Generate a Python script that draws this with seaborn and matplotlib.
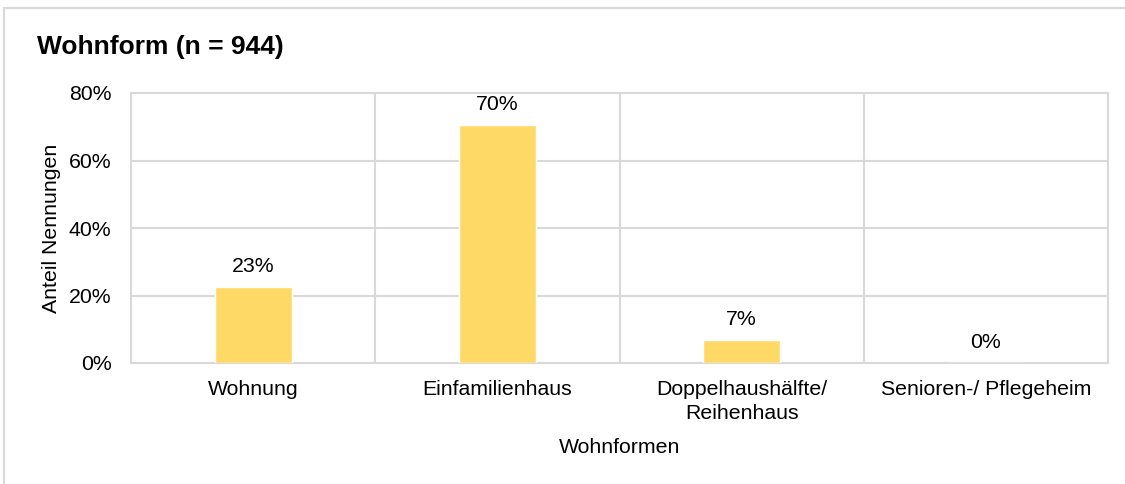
import matplotlib
matplotlib.use("Agg")
import matplotlib.pyplot as plt
import matplotlib.patches as mpatches
from matplotlib.ticker import FuncFormatter
import seaborn as sns
import pandas as pd

# data
wohnformen = ["Wohnung", "Einfamilienhaus", "Doppelhaushälfte/\nReihenhaus",
              "Senioren-/ Pflegeheim"]
anteil = [22.6, 70.4, 6.8, 0.0]

title = "Wohnform (n = 944)"
xlab = "Wohnformen"
ylab = "Anteil Nennungen"

sns.set_style("white")
plt.rcParams['font.family'] = ['Liberation Sans', 'DejaVu Sans']
plt.rcParams['text.color'] = 'black'
plt.rcParams['axes.labelcolor'] = 'black'

FS = 15.3

df = pd.DataFrame({"form": wohnformen, "anteil": anteil})

fig = plt.figure(figsize=(11.25, 4.84), dpi=100)
ax = fig.add_axes([131/1125, 1-363/484, (1108-131)/1125, (363-93)/484])

sns.barplot(data=df, x="form", y="anteil", color="#FFD966", saturation=1,
            width=0.315, ax=ax, zorder=3)

ax.set_ylim(0, 80)
ax.set_xlim(-0.5, 3.5)
ax.set_yticks([0, 20, 40, 60, 80])
ax.yaxis.set_major_formatter(FuncFormatter(lambda v, p: "{:.0f}%".format(v)))
ax.set_xticks([0.5, 1.5, 2.5], minor=True)
ax.grid(True, axis="y", color="#D9D9D9", lw=1.5, zorder=0)
ax.grid(True, axis="x", which="minor", color="#D9D9D9", lw=1.5, zorder=0)
ax.tick_params(axis="both", which="both", length=0, labelsize=FS, colors="black")
ax.tick_params(axis="x", pad=12)
ax.tick_params(axis="y", pad=14)
for lbl in ax.get_xticklabels():
    lbl.set_linespacing(1.35)
for s in ax.spines.values():
    s.set_color("#D9D9D9")
    s.set_linewidth(1.5)

## value labels above bars
for i, v in enumerate(anteil):
    ax.annotate("{:.0f}%".format(v), (i, v), xytext=(0, 11), textcoords="offset pixels",
                ha="center", va="bottom", fontsize=FS)

ax.set_xlabel(xlab, fontsize=FS, labelpad=11)
ax.set_ylabel(ylab, fontsize=FS, labelpad=6)

fig.text(37/1125, 1-47/484, title, fontsize=19, fontweight="bold", va="center", ha="left")

## outer chart border
fig.patches.append(mpatches.Rectangle((4/1125, -0.1), 1.2, 1-8/484+0.1,
                                      transform=fig.transFigure, fill=False,
                                      edgecolor="#D9D9D9", lw=1.5))

fig.savefig("out.png", dpi=100)
